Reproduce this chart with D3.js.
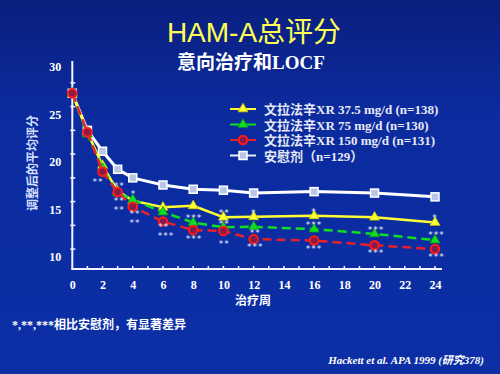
<!DOCTYPE html>
<html>
<head>
<meta charset="utf-8">
<script src="https://cdn.jsdelivr.net/npm/d3@7"></script>
<style>
  html, body { margin: 0; padding: 0; }
  body { width: 500px; height: 374px; overflow: hidden; }
  text { font-family: "Liberation Serif", "Noto Sans CJK SC", serif; }
</style>
</head>
<body>
<div id="chart"></div>
<script>
'use strict';

// weeks on the x axis
const weeks = [0, 1, 2, 3, 4, 6, 8, 10, 12, 16, 20, 24];

// adjusted mean HAM-A total per group
const ven375 = [27.2, 23.1, 19.6, 16.9, 15.9, 15.2, 15.35, 14.15, 14.2, 14.3, 14.15, 13.6];
const ven75 = [27.2, 22.9, 19.3, 16.7, 16.0, 14.7, 13.6, 13.1, 13.15, 12.9, 12.4, 11.75];
const ven150 = [27.2, 23.1, 18.95, 16.8, 15.25, 13.7, 12.8, 12.7, 11.85, 11.7, 11.2, 10.8];
const placebo = [27.2, 23.3, 21.1, 19.2, 18.3, 17.55, 17.1, 17.0, 16.7, 16.85, 16.7, 16.3];

const seriesNames = [
  '文拉法辛XR 37.5 mg/d (n=138)',
  '文拉法辛XR 75 mg/d (n=130)',
  '文拉法辛XR 150 mg/d (n=131)',
  '安慰剂（n=129）'
];

const yTickValues = [10, 15, 20, 25, 30];
const yMinorTicks = [28.3, 25.8, 23.3, 20.8, 18.3, 15.8, 13.3, 10.8];
const xTickLabels = [0, 2, 4, 6, 8, 10, 12, 14, 16, 18, 20, 22, 24];

// significance marks vs placebo: [week, value, text]
const stars = [
  [1.7, 18.0, '**'],
  [3.1, 17.55, '**'], [3.1, 15.95, '**'], [3.1, 15.0, '**'],
  [4.05, 16.7, '*'], [4.15, 14.6, '**'], [4.15, 13.65, '**'],
  [6.05, 13.25, '**'], [6.2, 12.3, '***'],
  [8.05, 14.2, '***'], [8.05, 12.0, '***'],
  [10.05, 14.7, '**'], [10.05, 13.55, '**'], [10.05, 11.45, '**'],
  [12, 14.7, '*'], [12.1, 12.6, '**'], [12.1, 11.1, '***'],
  [16, 14.8, '*'], [16, 13.45, '***'], [16, 10.9, '***'],
  [20.1, 12.9, '***'], [20.1, 10.5, '***'],
  [24, 14.2, '*'], [24.1, 12.4, '***'], [24.1, 10.1, '***']
];

const W = 500, H = 374;

const svg = d3.select('#chart').append('svg')
    .attr('width', W)
    .attr('height', H);

// background
const defs = svg.append('defs');
const grad = defs.append('linearGradient')
    .attr('id', 'bg')
    .attr('x1', 0).attr('y1', 0).attr('x2', 0).attr('y2', 1);
grad.append('stop').attr('offset', '0%').attr('stop-color', '#0a1f7e');
grad.append('stop').attr('offset', '30%').attr('stop-color', '#0b2b9e');
grad.append('stop').attr('offset', '100%').attr('stop-color', '#0c2fa6');

svg.append('rect')
    .attr('width', W).attr('height', H)
    .attr('fill', 'url(#bg)');

// titles
svg.append('text')
    .attr('x', 254).attr('y', 42)
    .attr('text-anchor', 'middle')
    .style('font-family', '"Liberation Sans", "Noto Sans CJK SC", sans-serif')
    .style('font-size', '28px')
    .attr('fill', '#ffff55')
    .text('HAM-A总评分');

svg.append('text')
    .attr('x', 251).attr('y', 69)
    .attr('text-anchor', 'middle')
    .style('font-size', '19px')
    .style('font-weight', 'bold')
    .attr('fill', '#ffffff')
    .text('意向治疗和LOCF');

// scales
const x = d3.scaleLinear().domain([0, 24]).range([72.3, 435]);
const y = d3.scaleLinear().domain([10, 30]).range([256.7, 66.7]);

const axisColor = '#f4f4ff';

// y axis
const yAxis = svg.append('g')
    .attr('transform', `translate(${x(0) - 11}, 0)`)
    .call(d3.axisLeft(y).tickValues(yTickValues).tickSize(0).tickPadding(0));
yAxis.select('.domain').remove();
yAxis.selectAll('text')
    .attr('fill', '#ffffff')
    .style('font-size', '12px')
    .style('font-weight', 'bold')
    .style('font-family', '"Liberation Serif", serif');

svg.append('line')
    .attr('x1', x(0)).attr('x2', x(0))
    .attr('y1', 61).attr('y2', 269)
    .attr('stroke', axisColor).attr('stroke-width', 2);

svg.selectAll('.ytick-minor')
    .data(yMinorTicks)
  .enter().append('line')
    .attr('class', 'ytick-minor')
    .attr('x1', x(0) - 2).attr('x2', x(0) + 3)
    .attr('y1', d => y(d)).attr('y2', d => y(d))
    .attr('stroke', axisColor).attr('stroke-width', 1.5);

// x axis
const xAxis = svg.append('g')
    .attr('transform', 'translate(0, 280)')
    .call(d3.axisBottom(x).tickValues(xTickLabels).tickSize(0).tickPadding(0));
xAxis.select('.domain').remove();
xAxis.selectAll('text')
    .attr('fill', '#ffffff')
    .style('font-size', '12px')
    .style('font-weight', 'bold')
    .style('font-family', '"Liberation Serif", serif');

svg.append('line')
    .attr('x1', x(0) - 1).attr('x2', 442)
    .attr('y1', 269).attr('y2', 269)
    .attr('stroke', axisColor).attr('stroke-width', 2);

svg.selectAll('.xtick-minor')
    .data(d3.range(1, 25))
  .enter().append('line')
    .attr('class', 'xtick-minor')
    .attr('x1', d => x(d)).attr('x2', d => x(d))
    .attr('y1', 266).attr('y2', 269)
    .attr('stroke', axisColor).attr('stroke-width', 1.5);

// axis titles
svg.append('text')
    .attr('transform', 'translate(37, 163) rotate(-90)')
    .attr('text-anchor', 'middle')
    .style('font-size', '12px')
    .style('font-weight', 'bold')
    .attr('fill', '#d8e0ff')
    .text('调整后的平均评分');

svg.append('text')
    .attr('x', 253).attr('y', 305)
    .attr('text-anchor', 'middle')
    .style('font-size', '12px')
    .style('font-weight', 'bold')
    .attr('fill', '#ffffff')
    .text('治疗周');

// series
const series = [
  { name: seriesNames[0], values: ven375, color: '#ffff33', marker: 'triangle', dash: null, width: 2.5 },
  { name: seriesNames[1], values: ven75, color: '#11dd22', marker: 'triangle', dash: '9,5', width: 2.5 },
  { name: seriesNames[2], values: ven150, color: '#e8202a', marker: 'circle', dash: '9,5', width: 2.5 },
  { name: seriesNames[3], values: placebo, color: '#ffffff', marker: 'square', dash: null, width: 3 }
];

const line = d3.line()
    .x(d => x(d[0]))
    .y(d => y(d[1]));

function drawMarker(g, type, color) {
  if (type === 'triangle') {
    g.append('path')
        .attr('d', d3.symbol().type(d3.symbolTriangle).size(42))
        .attr('fill', color)
        .attr('stroke', color === '#ffff33' ? '#cccc00' : '#0a9a10')
        .attr('stroke-width', 0.8);
  } else if (type === 'circle') {
    g.append('circle')
        .attr('r', 4.3)
        .attr('fill', '#8a1a4a')
        .attr('stroke', '#ff1a1a')
        .attr('stroke-width', 2);
  } else {
    g.append('rect')
        .attr('x', -4).attr('y', -4)
        .attr('width', 8).attr('height', 8)
        .attr('fill', '#b8c6ec')
        .attr('stroke', '#ffffff')
        .attr('stroke-width', 1.5);
  }
}

const drawOrder = [3, 0, 1, 2];
drawOrder.forEach(i => {
  const s = series[i];
  const pts = weeks.map((w, j) => [w, s.values[j]]);
  svg.append('path')
      .datum(pts)
      .attr('d', line)
      .attr('fill', 'none')
      .attr('stroke', s.color)
      .attr('stroke-width', s.width)
      .attr('stroke-dasharray', s.dash);
  svg.selectAll(null)
      .data(pts)
    .enter().append('g')
      .attr('transform', d => `translate(${x(d[0])}, ${y(d[1])})`)
      .each(function() { drawMarker(d3.select(this), s.marker, s.color); });
});

// significance marks
svg.selectAll('.star')
    .data(stars)
  .enter().append('text')
    .attr('class', 'star')
    .attr('x', d => x(d[0]))
    .attr('y', d => y(d[1]) + 4)
    .attr('text-anchor', 'middle')
    .style('font-family', '"DejaVu Sans", sans-serif')
    .style('font-size', '9px')
    .style('letter-spacing', '1px')
    .attr('fill', '#e8ecff')
    .text(d => d[2]);

// legend
const legend = svg.append('g').attr('transform', 'translate(230, 109)');
series.forEach((s, i) => {
  const row = legend.append('g').attr('transform', `translate(0, ${i * 15.5})`);
  row.append('line')
      .attr('x1', 0).attr('x2', 26)
      .attr('stroke', i === 3 ? '#e8eeff' : s.color)
      .attr('stroke-width', 2);
  const m = row.append('g').attr('transform', 'translate(13, 0)');
  drawMarker(m, s.marker, s.color);
  row.append('text')
      .attr('x', 34).attr('y', 5)
      .style('font-size', '13px')
      .style('font-weight', 'bold')
      .attr('fill', '#e6e9f6')
      .text(s.name);
});

// footnotes
svg.append('text')
    .attr('x', 12).attr('y', 329)
    .style('font-size', '12px')
    .style('font-weight', 'bold')
    .attr('fill', '#ffffff')
    .text('*,**,***相比安慰剂，有显著差异');

svg.append('text')
    .attr('x', 484).attr('y', 364)
    .attr('text-anchor', 'end')
    .style('font-size', '11px')
    .style('font-weight', 'bold')
    .style('font-style', 'italic')
    .attr('fill', '#ffffff')
    .text('Hackett et al. APA 1999 (研究378)');
</script>
</body>
</html>
